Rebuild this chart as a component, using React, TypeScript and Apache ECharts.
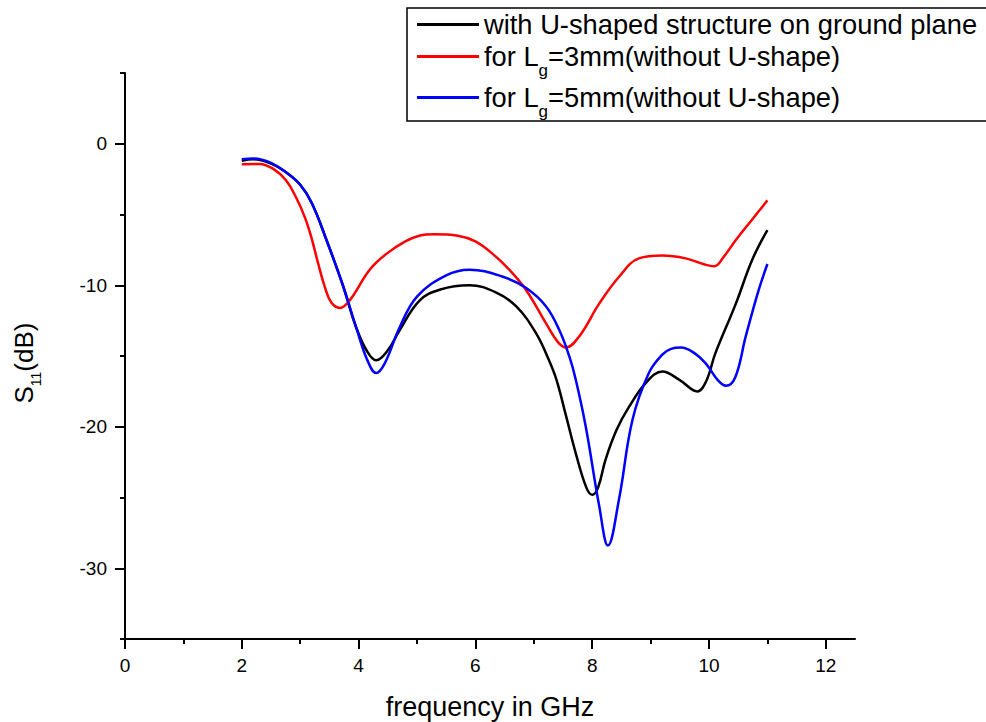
import React, { useEffect, useRef } from "react";
import * as echarts from "echarts";

// ---- data ----
const blackX = [2.0, 2.2, 2.5, 2.75, 3.0, 3.2, 3.45, 3.73, 3.96, 4.15, 4.3, 4.5, 4.7, 5.04, 5.4, 5.9, 6.35, 6.7, 7.04, 7.26, 7.39, 7.55, 7.72, 7.9, 8.0, 8.1, 8.23, 8.42, 8.63, 8.92, 9.2, 9.5, 9.8, 9.95, 10.11, 10.46, 10.74, 11.0];
const blackY = [-1.2, -1.1, -1.4, -2.0, -2.9, -4.2, -6.8, -10.0, -13.0, -14.7, -15.3, -14.6, -13.2, -11.1, -10.3, -10.0, -10.5, -11.5, -13.4, -15.3, -16.7, -19.2, -21.9, -24.3, -24.8, -24.3, -22.3, -20.2, -18.6, -16.9, -16.1, -16.7, -17.5, -16.8, -14.8, -11.3, -8.2, -6.1];

const redX = [2.0, 2.3, 2.54, 2.76, 2.93, 3.08, 3.19, 3.31, 3.42, 3.53, 3.68, 3.85, 4.19, 4.47, 4.8, 5.04, 5.3, 5.7, 6.0, 6.3, 6.58, 6.87, 7.21, 7.41, 7.55, 7.78, 8.12, 8.46, 8.8, 9.2, 9.6, 9.9, 10.09, 10.25, 10.46, 10.75, 11.0];
const redY = [-1.45, -1.43, -1.78, -2.6, -3.8, -5.2, -6.6, -8.5, -10.1, -11.2, -11.6, -11.05, -8.9, -7.8, -6.9, -6.5, -6.4, -6.5, -6.9, -7.8, -8.9, -10.35, -12.7, -14.0, -14.4, -13.6, -11.3, -9.4, -8.1, -7.9, -8.1, -8.5, -8.66, -8.0, -6.8, -5.3, -4.0];

const blueX = [2.0, 2.2, 2.5, 2.75, 3.0, 3.2, 3.45, 3.73, 3.96, 4.15, 4.3, 4.45, 4.7, 5.0, 5.5, 5.9, 6.47, 6.87, 7.21, 7.44, 7.61, 7.72, 7.89, 8.12, 8.27, 8.46, 8.69, 8.97, 9.2, 9.35, 9.52, 9.75, 9.94, 10.15, 10.29, 10.45, 10.63, 10.85, 11.0];
const blueY = [-1.1, -1.05, -1.35, -2.0, -2.9, -4.2, -6.8, -10.0, -13.0, -15.3, -16.2, -15.5, -13.0, -10.8, -9.3, -8.9, -9.4, -10.2, -11.5, -13.2, -15.05, -16.7, -20.0, -25.6, -28.4, -25.1, -19.5, -16.2, -14.9, -14.5, -14.4, -14.8, -15.5, -16.7, -17.1, -16.5, -13.6, -10.35, -8.5];

const seriesNames = [
  "with U-shaped structure on ground plane",
  "for Lg=3mm(without U-shape)",
  "for Lg=5mm(without U-shape)",
];
const legendRich: Record<string, string> = {
  "with U-shaped structure on ground plane": "with U-shaped structure on ground plane",
  "for Lg=3mm(without U-shape)": "for L{sub|g}=3mm(without U-shape)",
  "for Lg=5mm(without U-shape)": "for L{sub|g}=5mm(without U-shape)",
};
const xMajorTicks = [0, 2, 4, 6, 8, 10, 12];
const xMinorTicks = [1, 3, 5, 7, 9, 11];
const yMajorTicks = [-30, -20, -10, 0];
const yMinorTicks = [-35, -25, -15, -5, 5];

const FONT = "'Liberation Sans', Arial, sans-serif";

const zip = (xs: number[], ys: number[]) => xs.map((x, i) => [x, ys[i]]);

export default function App() {
  const ref = useRef<HTMLDivElement>(null);
  useEffect(() => {
    if (!ref.current) return;
    const chart = echarts.init(ref.current, undefined, { renderer: "svg" });
    const axisLineStyle = { color: "#000", width: 2 };
    const option: any = {
      animation: false,
      backgroundColor: "#fff",
      grid: { left: 125, right: 131, top: 73, bottom: 83, containLabel: false, outerBoundsMode: "none" },
      legend: {
        orient: "vertical",
        left: 407,
        top: 8,
        padding: [3, 10, 1, 10],
        itemGap: 5,
        itemWidth: 62,
        itemHeight: 3,
        icon: "rect",
        borderColor: "#000",
        borderWidth: 1.5,
        backgroundColor: "#fff",
        data: seriesNames,
        formatter: (name: string) => legendRich[name] || name,
        textStyle: {
          fontSize: 27.3,
          fontFamily: FONT,
          color: "#000",
          rich: {
            sub: { fontSize: 17, fontFamily: FONT, color: "#000", padding: [14, 0, -14, 0] },
          },
        },
      },
      xAxis: [
        {
          type: "value",
          min: 0,
          max: 12.5,
          position: "bottom",
          axisLine: { show: true, onZero: false, lineStyle: axisLineStyle },
          axisTick: { show: true, customValues: xMajorTicks, length: 10, lineStyle: axisLineStyle },
          axisLabel: { customValues: xMajorTicks, color: "#000", fontSize: 19, fontFamily: FONT, margin: 17 },
          splitLine: { show: false },
          name: "frequency in GHz",
          nameLocation: "middle",
          nameGap: 54,
          nameTextStyle: { fontSize: 27, fontFamily: FONT, color: "#000" },
        },
        {
          type: "value",
          min: 0,
          max: 12.5,
          position: "bottom",
          axisLine: { show: false, onZero: false },
          axisTick: { show: true, customValues: xMinorTicks, length: 5, lineStyle: axisLineStyle },
          axisLabel: { show: false },
          splitLine: { show: false },
        },
      ],
      yAxis: [
        {
          type: "value",
          min: -35,
          max: 5,
          position: "left",
          axisLine: { show: true, onZero: false, lineStyle: axisLineStyle },
          axisTick: { show: true, customValues: yMajorTicks, length: 10, lineStyle: axisLineStyle },
          axisLabel: { customValues: yMajorTicks, color: "#000", fontSize: 19, fontFamily: FONT, margin: 18 },
          splitLine: { show: false },
          name: "{m|S}{sub|11}{m|(dB)}",
          nameLocation: "middle",
          nameGap: 88,
          nameTextStyle: {
            fontSize: 26,
            fontFamily: FONT,
            color: "#000",
            padding: [0, 14, 0, 0],
            rich: {
              m: { fontSize: 26, fontFamily: FONT, color: "#000" },
              sub: { fontSize: 14, fontFamily: FONT, color: "#000", padding: [12, 0, -12, 0] },
            },
          },
        },
        {
          type: "value",
          min: -35,
          max: 5,
          position: "left",
          axisLine: { show: false, onZero: false },
          axisTick: { show: true, customValues: yMinorTicks, length: 5, lineStyle: axisLineStyle },
          axisLabel: { show: false },
          splitLine: { show: false },
        },
      ],
      series: [
        { name: seriesNames[0], type: "line", data: zip(blackX, blackY), color: "#000000" },
        { name: seriesNames[1], type: "line", data: zip(redX, redY), color: "#ff0000" },
        { name: seriesNames[2], type: "line", data: zip(blueX, blueY), color: "#0000ff" },
      ].map((s) => ({
        ...s,
        xAxisIndex: 0,
        yAxisIndex: 0,
        symbol: "none",
        smooth: 0.4,
        lineStyle: { width: 2.5, color: s.color },
        itemStyle: { color: s.color },
      })),
    };
    chart.setOption(option);
    return () => chart.dispose();
  }, []);
  return (
    <div
      ref={ref}
      style={{ position: "fixed", left: 0, top: 0, width: 986, height: 722, background: "#fff" }}
    />
  );
}
